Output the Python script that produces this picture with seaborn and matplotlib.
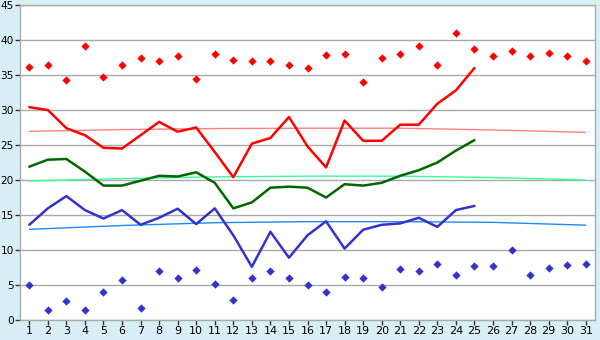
import matplotlib
matplotlib.use("Agg")
import matplotlib.pyplot as plt
import seaborn as sns
import pandas as pd
import numpy as np

days = list(range(1, 32))

max_points = [36.2, 36.4, 34.3, 39.1, 34.7, 36.4, 37.4, 37.0, 37.7, 34.4,
              38.0, 37.1, 37.0, 37.0, 36.4, 36.0, 37.8, 38.0, 34.0, 37.5,
              38.0, 39.1, 36.4, 41.0, 38.7, 37.7, 38.5, 37.7, 38.1, 37.7, 37.0]
min_points = [4.95, 1.4, 2.7, 1.5, 3.95, 5.7, 1.7, 6.95, 5.95, 7.2,
              5.1, 2.8, 5.95, 6.95, 5.95, 4.95, 3.95, 6.1, 5.95, 4.7,
              7.25, 6.95, 7.95, 6.4, 7.65, 7.65, 9.95, 6.5, 7.4, 7.8, 7.95]

line_days = list(range(1, 26))
max_line = [30.4, 30.0, 27.4, 26.4, 24.6, 24.5, 26.4, 28.3, 26.9, 27.5,
            24.0, 20.4, 25.2, 26.0, 29.0, 24.8, 21.8, 28.5, 25.6, 25.6,
            27.9, 27.9, 30.9, 32.8, 36.0]
avg_line = [21.9, 22.9, 23.0, 21.2, 19.2, 19.2, 19.9, 20.6, 20.5, 21.1,
            19.6, 15.95, 16.8, 18.9, 19.05, 18.9, 17.5, 19.4, 19.2, 19.6,
            20.6, 21.4, 22.5, 24.2, 25.7]
min_line = [13.6, 15.95, 17.7, 15.7, 14.5, 15.7, 13.6, 14.6, 15.9, 13.7,
            15.95, 12.1, 7.6, 12.6, 8.9, 12.1, 14.1, 10.2, 12.9, 13.6,
            13.8, 14.6, 13.3, 15.7, 16.3]

trend_days = [1, 6, 11, 16, 21, 26, 31]
max_trend = [26.95, 27.2, 27.35, 27.4, 27.4, 27.15, 26.8]
avg_trend = [19.85, 20.2, 20.45, 20.55, 20.55, 20.35, 20.0]
min_trend = [12.95, 13.5, 13.9, 14.05, 14.05, 13.95, 13.55]

y_ticks = list(range(0, 50, 5))

sns.set_theme(style="white")
plt.rcParams['font.family'] = ['DejaVu Sans']

bg = "#d9eff6"
fig = plt.figure(figsize=(6, 3.4), dpi=100, facecolor=bg)
ax = fig.add_axes([20/600, 1-320/340, 575/600, 315/340])
ax.set_facecolor("white")

for yv in y_ticks:
    ax.axhline(yv, color="#aaaaaa", lw=1.0, zorder=0)

tr = pd.DataFrame({"day": trend_days, "mx": max_trend, "av": avg_trend, "mn": min_trend})
sns.lineplot(data=tr, x="day", y="mx", ax=ax, color="#ff8080", lw=1.0, zorder=2)
sns.lineplot(data=tr, x="day", y="av", ax=ax, color="#33ff99", lw=1.0, zorder=2)
sns.lineplot(data=tr, x="day", y="mn", ax=ax, color="#1e88ff", lw=1.0, zorder=2)

ln = pd.DataFrame({"day": line_days, "mx": max_line, "av": avg_line, "mn": min_line})
sns.lineplot(data=ln, x="day", y="mx", ax=ax, color="#ff0000", lw=1.8, zorder=3)
sns.lineplot(data=ln, x="day", y="av", ax=ax, color="#006600", lw=1.8, zorder=3)
sns.lineplot(data=ln, x="day", y="mn", ax=ax, color="#3333cc", lw=1.8, zorder=3)

pts = pd.DataFrame({"day": days, "mx": max_points, "mn": min_points})
sns.scatterplot(data=pts, x="day", y="mx", ax=ax, color="#ff0000", marker="D", s=18, linewidth=0, zorder=4)
sns.scatterplot(data=pts, x="day", y="mn", ax=ax, color="#3333cc", marker="D", s=18, linewidth=0, zorder=4)

ax.set_xlim(0.5, 31.5)
ax.set_ylim(0, 45)
ax.set_xticks(days)
ax.set_xticklabels([str(d) for d in days])
ax.set_yticks(y_ticks)
ax.set_xlabel("")
ax.set_ylabel("")
for s in ax.spines.values():
    s.set_color("#aaaaaa")
    s.set_linewidth(1.0)
ax.tick_params(axis="both", which="both", direction="out", length=3.5, width=1,
               color="#333333", labelsize=8, labelcolor="black", pad=1,
               left=True, bottom=True)
ax.tick_params(axis="y", labelsize=7.6)
fig.savefig("out.png", dpi=100, facecolor=bg)
